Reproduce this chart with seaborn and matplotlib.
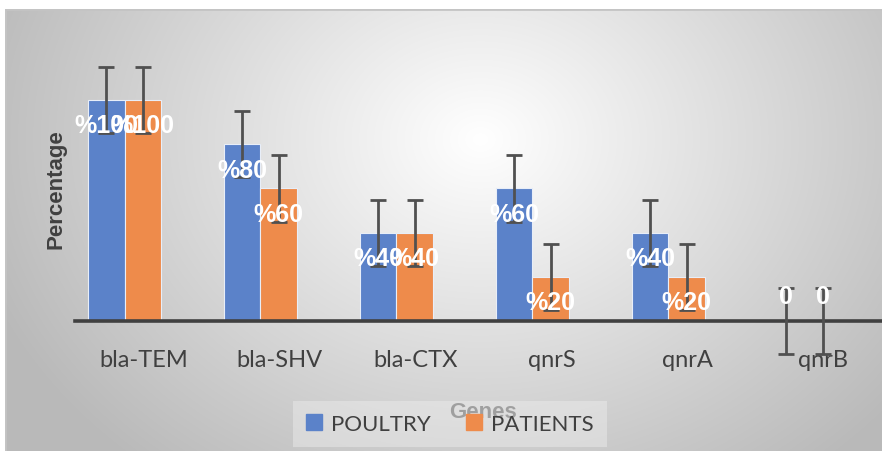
import numpy as np
import pandas as pd
import seaborn as sns
import matplotlib
matplotlib.use('Agg')
import matplotlib.pyplot as plt
import matplotlib.transforms as mtrans

# values
genes = ['bla-TEM', 'bla-SHV', 'bla-CTX', 'qnrS', 'qnrA', 'qnrB']
poultry = [100, 80, 40, 60, 40, 0]
patients = [100, 60, 40, 20, 20, 0]
err_poultry = [15, 15, 15, 15, 15, 15]
err_patients = [15, 15, 15, 15, 15, 15]
groups = ['POULTRY', 'PATIENTS']

df = pd.DataFrame({
    'Genes': genes * 2,
    'Percentage': poultry + patients,
    'Group': [groups[0]] * len(genes) + [groups[1]] * len(genes),
})

sns.set_style('white')
plt.rcParams['font.family'] = ['Lato', 'DejaVu Sans']
bold_font = ['Liberation Sans', 'DejaVu Sans']

fig = plt.figure(figsize=(8.82, 4.52), dpi=100)
fig.patch.set_facecolor('white')

# radial grey background of the chart area
bg = fig.add_axes([5 / 882, 0, 877 / 882, 442 / 452])
yy, xx = np.mgrid[0:442, 0:877]
r = np.sqrt(((xx - 475) / 470.0) ** 2 + ((yy - 130) / 380.0) ** 2)
shade = np.clip(255 - 62 * r, 185, 255) / 255.0
bg.imshow(np.dstack([shade, shade, shade]), aspect='auto', extent=[0, 1, 0, 1])
bg.set_xticks([])
bg.set_yticks([])
for s in bg.spines.values():
    s.set_visible(False)
bg.axhline(1, color='#c4c4c4', lw=2)
bg.axvline(0, color='#c4c4c4', lw=2)

ax = fig.add_axes([75 / 882, 0, 807 / 882, 442 / 452])
ax.set_facecolor('none')
palette = {'POULTRY': '#5b82c9', 'PATIENTS': '#ee8b4b'}
sns.barplot(data=df, x='Genes', y='Percentage', hue='Group', palette=palette,
            width=0.54, errorbar=None, edgecolor='#e8eef8', linewidth=0.8,
            saturation=1, ax=ax)

# error bars and data labels
bars = [p for p in ax.patches if p.get_width() > 0]
vals = poultry + patients
errs = err_poultry + err_patients
for p, v, e in zip(bars, vals, errs):
    xc = p.get_x() + p.get_width() / 2
    ax.errorbar(xc, v, yerr=e, color='#505050', lw=2, capsize=6,
                capthick=2, zorder=4)
    txt = '%' + str(v) if v > 0 else '0'
    ty = v - 11.5 if v > 0 else v + 11.5
    ax.text(xc, ty, txt, ha='center', va='center', color='white',
            fontsize=18, fontweight='bold', family=bold_font, zorder=5)

ax.set_xlim(-0.364, 5.57)
ax.set_ylim(-58.8, 141.2)
ax.set_yticks([])
for s in ['left', 'right', 'top']:
    ax.spines[s].set_visible(False)
ax.spines['bottom'].set_position(('data', 0))
ax.spines['bottom'].set_color('#404040')
ax.spines['bottom'].set_linewidth(2.6)
ax.spines['bottom'].set_zorder(3)
ax.tick_params(axis='x', length=0, pad=20, labelsize=17, labelcolor='#404040')
# category labels sit a little right of the bar groups
shift = mtrans.ScaledTranslation(0.19, 0, fig.dpi_scale_trans)
for lab in ax.get_xticklabels():
    lab.set_transform(lab.get_transform() + shift)

ax.set_ylabel('Percentage', fontsize=16, fontweight='bold', color='#404040',
              family=bold_font)
ax.yaxis.set_label_coords(-0.01, 0.595)
ax.set_xlabel('Genes', fontsize=16, fontweight='bold', color='#606060',
              family=bold_font)
ax.xaxis.set_label_coords(0.506, 0.112)

ax.get_legend().remove()
handles = [plt.Rectangle((0, 0), 1, 1, color=palette[g]) for g in groups]
leg = fig.legend(handles, groups, loc='center', bbox_to_anchor=(0.51, 0.06),
                 ncol=2, fontsize=16, frameon=True, fancybox=False,
                 handlelength=0.7, handleheight=0.7, handletextpad=0.4,
                 columnspacing=1.6, borderpad=0.6, labelcolor='#404040')
leg.get_frame().set_facecolor('#eeeeee')
leg.get_frame().set_edgecolor('none')
leg.get_frame().set_alpha(0.45)

fig.savefig('out.png', dpi=100)
